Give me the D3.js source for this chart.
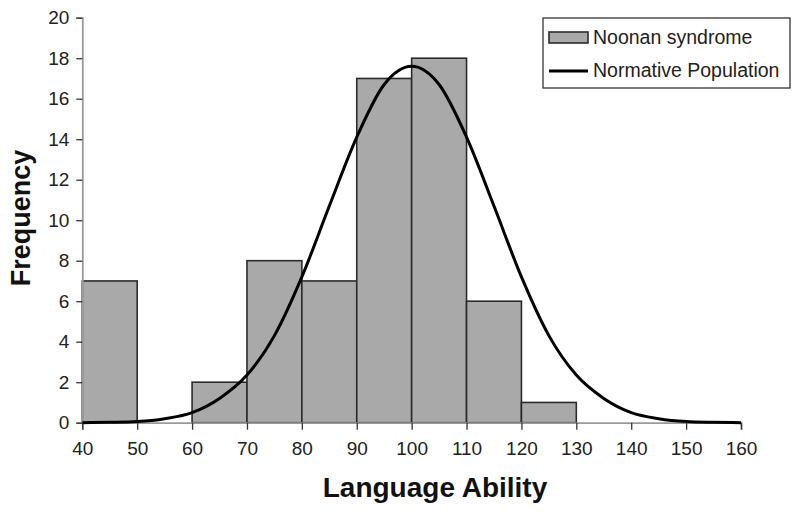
<!DOCTYPE html>
<html>
<head>
<meta charset="utf-8">
<script src="https://cdn.jsdelivr.net/npm/d3@7"></script>
<style>
  body { margin: 0; background: #fff; }
  text { font-family: "Liberation Sans", Arial, sans-serif; }
</style>
</head>
<body>
<div id="wrapper"></div>
<script>
// histogram bins (lower edge) and counts
const binStarts = [40, 50, 60, 70, 80, 90, 100, 110, 120]
const binCounts = [7, 0, 2, 8, 7, 17, 18, 6, 1]
const binWidth = 10

// normative population curve
const curveX = [40, 45, 50, 55, 60, 65, 70, 75, 80, 85, 90, 95, 100, 105, 110, 115, 120, 125, 130, 135, 140, 145, 150, 155, 160]
const curveY = [0, 0.02, 0.06, 0.2, 0.5, 1.2, 2.35, 4.3, 7.2, 10.7, 14.1, 16.7, 17.6, 16.7, 14.1, 10.7, 7.2, 4.3, 2.35, 1.2, 0.5, 0.2, 0.06, 0.02, 0]

const xTicks = [40, 50, 60, 70, 80, 90, 100, 110, 120, 130, 140, 150, 160]
const yTicks = [0, 2, 4, 6, 8, 10, 12, 14, 16, 18, 20]

var dimension = {
    width: 800,
    height: 513,
    margin: { top: 17.7, right: 59, bottom: 90.3, left: 82.3 }
}
dimension.boundedWidth = dimension.width - dimension.margin.left - dimension.margin.right
dimension.boundedHeight = dimension.height - dimension.margin.top - dimension.margin.bottom

const svg = d3.select("#wrapper")
    .append("svg")
    .attr("width", dimension.width)
    .attr("height", dimension.height)

const bounds = svg.append("g")
    .attr("transform", `translate(${dimension.margin.left},${dimension.margin.top})`)

const x = d3.scaleLinear().domain([40, 160]).range([0, dimension.boundedWidth])
const y = d3.scaleLinear().domain([0, 20]).range([dimension.boundedHeight, 0])

// bars
const bins = binStarts.map((s, i) => ({ start: s, count: binCounts[i] }))
bounds.selectAll("rect.bar")
    .data(bins.filter(d => d.count > 0))
    .enter()
    .append("rect")
    .attr("class", "bar")
    .attr("x", d => x(d.start))
    .attr("width", d => x(d.start + binWidth) - x(d.start))
    .attr("y", d => y(d.count))
    .attr("height", d => y(0) - y(d.count))
    .style("fill", "#a9a9a9")
    .style("stroke", "#2b2b2b")
    .style("stroke-width", 1.6)

// axes
const xAxis = bounds.append("g")
    .attr("transform", `translate(0,${dimension.boundedHeight})`)
    .call(d3.axisBottom(x).tickValues(xTicks).tickSize(7).tickPadding(12))
const yAxis = bounds.append("g")
    .call(d3.axisLeft(y).tickValues(yTicks).tickSize(6).tickPadding(7))

;[xAxis, yAxis].forEach(a => {
    a.attr("font-size", 19).attr("font-family", "'Liberation Sans', Arial, sans-serif")
    a.select(".domain").attr("stroke", "#9a9a9a").attr("stroke-width", 1.8)
    a.selectAll(".tick line").attr("stroke", "#333").attr("stroke-width", 1.3)
    a.selectAll(".tick text").attr("fill", "#222")
})

// normal curve
const pts = curveX.map((v, i) => [v, curveY[i]])
bounds.append("path")
    .datum(pts)
    .attr("d", d3.line().x(d => x(d[0])).y(d => y(d[1])).curve(d3.curveMonotoneX))
    .style("fill", "none")
    .style("stroke", "#000")
    .style("stroke-width", 3)

// axis titles
svg.append("text")
    .attr("x", 435)
    .attr("y", 497)
    .attr("text-anchor", "middle")
    .style("font-size", "28px")
    .style("font-weight", "bold")
    .attr("fill", "#111")
    .text("Language Ability")

svg.append("text")
    .attr("transform", "translate(30,218) rotate(-90)")
    .attr("text-anchor", "middle")
    .style("font-size", "27px")
    .style("font-weight", "bold")
    .attr("fill", "#111")
    .text("Frequency")

// legend
const legend = svg.append("g").attr("transform", "translate(543,18)")
legend.append("rect")
    .attr("width", 247).attr("height", 70)
    .style("fill", "#fff").style("stroke", "#333").style("stroke-width", 1.3)
legend.append("rect")
    .attr("x", 6).attr("y", 14).attr("width", 39).attr("height", 11)
    .style("fill", "#a9a9a9").style("stroke", "#2b2b2b").style("stroke-width", 1.6)
legend.append("line")
    .attr("x1", 6).attr("x2", 45).attr("y1", 53).attr("y2", 53)
    .style("stroke", "#000").style("stroke-width", 3)
legend.selectAll("text.leg")
    .data(["Noonan syndrome", "Normative Population"])
    .enter()
    .append("text")
    .attr("class", "leg")
    .attr("x", 50)
    .attr("y", (d, i) => 25.5 + i * 33.5)
    .style("font-size", "19.5px")
    .attr("fill", "#222")
    .text(d => d)
</script>
</body>
</html>
